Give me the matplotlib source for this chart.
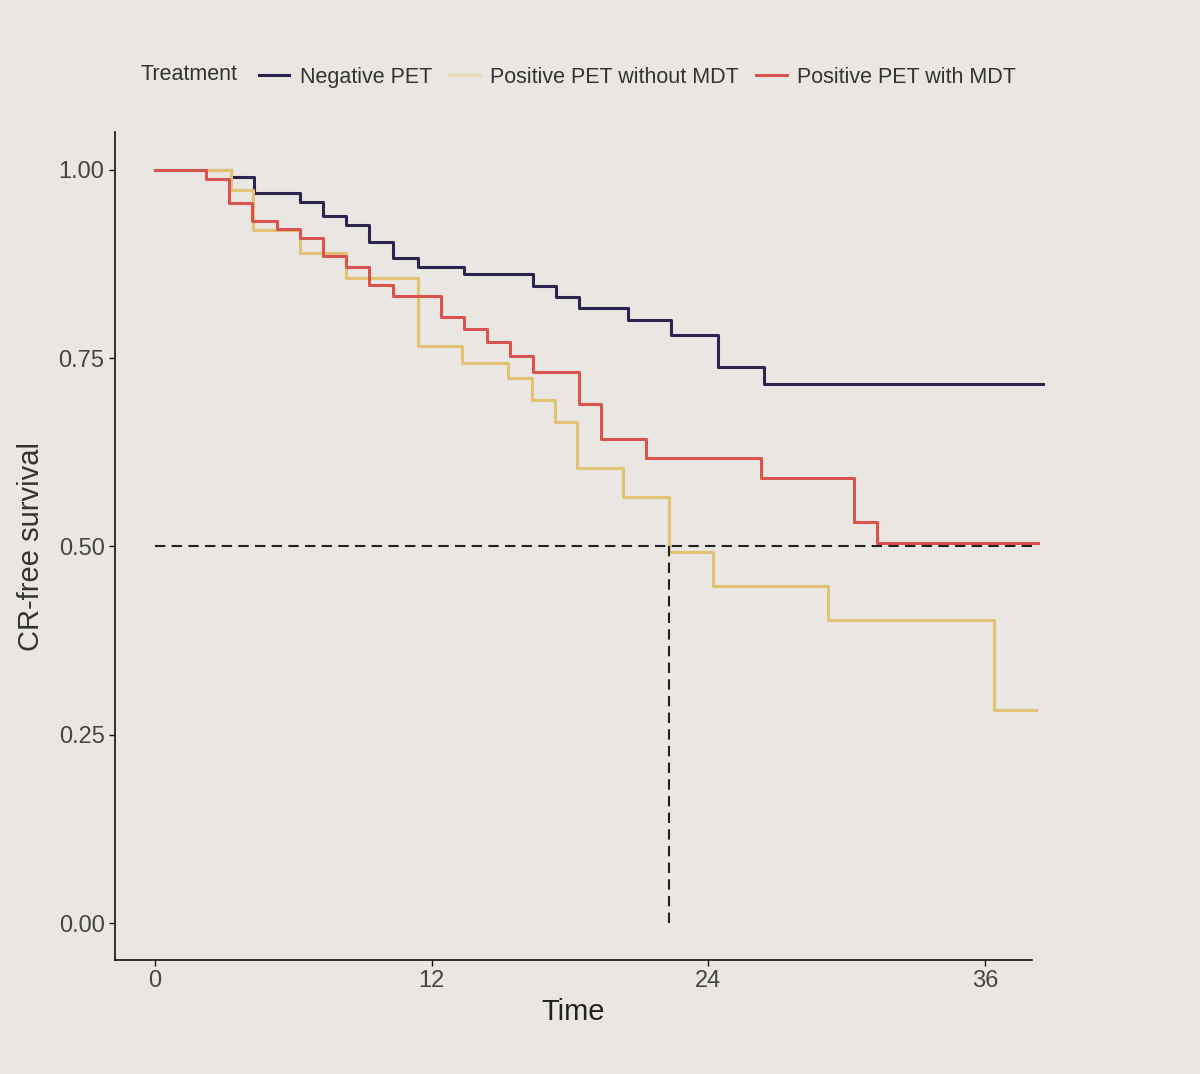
import matplotlib
matplotlib.use('Agg')
import matplotlib.pyplot as plt
from matplotlib.lines import Line2D

plt.rcParams['font.family'] = ['Liberation Sans', 'DejaVu Sans']

# Kaplan-Meier steps (time in months, survival)
neg_t = [0, 3.3, 4.3, 6.3, 7.3, 8.3, 9.3, 10.3, 11.4, 13.4, 16.4, 17.4, 18.4, 20.5, 22.4, 24.4, 26.4, 38.5]
neg_s = [1.0, 0.99, 0.969, 0.957, 0.938, 0.927, 0.904, 0.883, 0.871, 0.861, 0.846, 0.831, 0.817, 0.801, 0.781, 0.738, 0.716, 0.716]

pos_no_t = [0, 3.3, 4.25, 6.3, 8.3, 11.4, 13.3, 15.3, 16.35, 17.35, 18.3, 20.3, 22.3, 24.2, 29.2, 36.4, 38.2]
pos_no_s = [1.0, 0.973, 0.920, 0.890, 0.857, 0.766, 0.744, 0.724, 0.695, 0.665, 0.604, 0.566, 0.492, 0.448, 0.402, 0.283, 0.283]

pos_mdt_t = [0, 2.2, 3.2, 4.2, 5.3, 6.3, 7.3, 8.3, 9.3, 10.3, 12.4, 13.4, 14.4, 15.4, 16.4, 18.4, 19.35, 21.3, 26.3, 30.3, 31.3, 38.3]
pos_mdt_s = [1.0, 0.988, 0.956, 0.932, 0.922, 0.910, 0.885, 0.871, 0.847, 0.833, 0.805, 0.789, 0.772, 0.753, 0.732, 0.689, 0.643, 0.617, 0.591, 0.532, 0.505, 0.505]

labels = ['Negative PET', 'Positive PET without MDT', 'Positive PET with MDT']
colors = ['#2B2450', '#E2C273', '#D9534F']
median_time = 22.3

x_ticks = [0, 12, 24, 36]
y_ticks = [0.0, 0.25, 0.5, 0.75, 1.0]

bg = '#EAE7E2'
fig = plt.figure(figsize=(12, 10.74), dpi=100, facecolor=bg)
ax = fig.add_axes([0.0958, 0.1061, 0.7642, 0.7709], facecolor=bg)

series = [(neg_t, neg_s), (pos_no_t, pos_no_s), (pos_mdt_t, pos_mdt_s)]
for (t, s), c in zip(series, colors):
    ax.step(t, s, where='post', color=c, lw=2.2, clip_on=False, zorder=3)

# median lines
ax.plot([0, 38.3], [0.5, 0.5], color='#222222', lw=1.5, ls=(0, (5, 3)), clip_on=False, zorder=4)
ax.plot([median_time, median_time], [0, 0.5], color='#222222', lw=1.5, ls=(0, (5, 3)), zorder=4)

ax.set_xlim(-1.74, 38.04)
ax.set_ylim(-0.049, 1.05)
ax.set_xticks(x_ticks)
ax.set_yticks(y_ticks)
ax.set_yticklabels(['%.2f' % v for v in y_ticks])
ax.tick_params(labelsize=17, colors='#111111', labelcolor='#444444', length=4, width=1)
for sp in ['top', 'right']:
    ax.spines[sp].set_visible(False)
for sp in ['left', 'bottom']:
    ax.spines[sp].set_color('#111111')
    ax.spines[sp].set_linewidth(1.2)

ax.set_xlabel('Time', fontsize=21, color='#222222', labelpad=4)
ax.set_ylabel('CR-free survival', fontsize=21, color='#333333', labelpad=10)

fig.text(0.117, 0.931, 'Treatment', fontsize=15.5, color='#333333', va='center')
handles = [Line2D([0], [0], color=c, lw=2.2) for c in colors]
handles[1] = Line2D([0], [0], color='#E8DAB6', lw=2.2)
fig.legend(handles, labels, loc='center left', bbox_to_anchor=(0.207, 0.928),
           ncol=3, frameon=False, fontsize=15.5, handlelength=1.4,
           handletextpad=0.5, columnspacing=0.8, borderpad=0, labelcolor='#333333')

fig.savefig('out.png', dpi=100, facecolor=bg)
